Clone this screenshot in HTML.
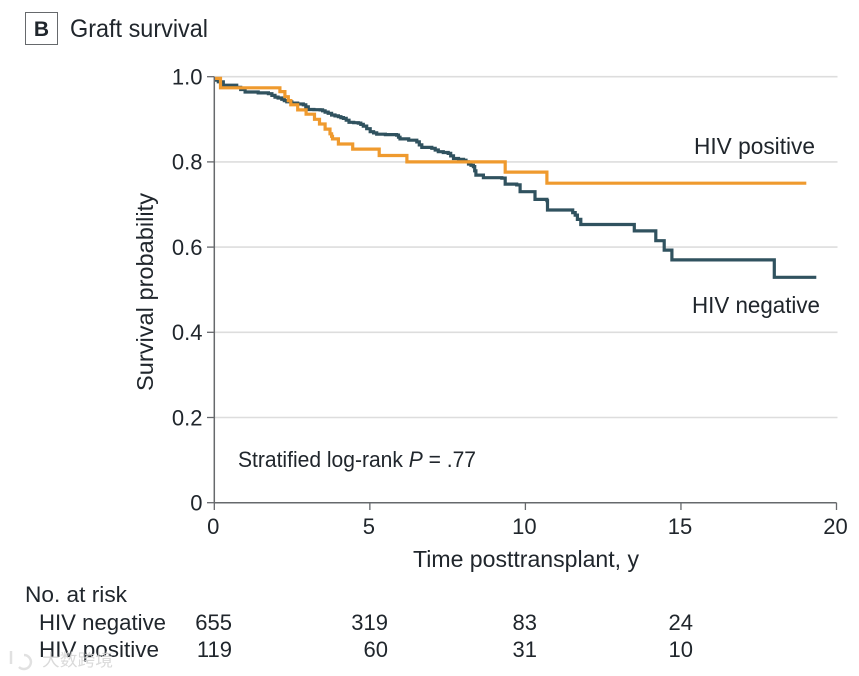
<!DOCTYPE html>
<html lang="en">
<head>
<meta charset="utf-8">
<title>Graft survival</title>
<style>
html,body{margin:0;padding:0;background:#fff;width:859px;height:676px;overflow:hidden}
svg{display:block}
text{font-family:"Liberation Sans",sans-serif;fill:#20262c;font-size:22px}
</style>
</head>
<body>
<svg id="chart" width="859" height="676" viewBox="0 0 859 676" xmlns="http://www.w3.org/2000/svg">
  <rect x="25.5" y="12.5" width="32" height="32" fill="#fff" stroke="#66696c" stroke-width="1"/>
  <text x="41.5" y="36" text-anchor="middle" font-weight="bold" style="font-size:21px">B</text>
  <text x="70" y="37" textLength="138" lengthAdjust="spacingAndGlyphs" style="font-size:25px">Graft survival</text>
  <g id="grid"></g>
  <g id="series"></g>
  <g id="axes"></g>
  <text transform="translate(153,391) rotate(-90)" textLength="198" lengthAdjust="spacingAndGlyphs" style="font-size:23.5px">Survival probability</text>
  <text x="413" y="567" textLength="226" lengthAdjust="spacingAndGlyphs" style="font-size:23.5px">Time posttransplant, y</text>
  <text x="694" y="154" textLength="121" lengthAdjust="spacingAndGlyphs" style="font-size:23.5px">HIV positive</text>
  <text x="692" y="313" textLength="128" lengthAdjust="spacingAndGlyphs" style="font-size:23.5px">HIV negative</text>
  <text x="238" y="467" textLength="238" lengthAdjust="spacingAndGlyphs" style="font-size:22px">Stratified log-rank <tspan font-style="italic">P</tspan> = .77</text>
  <text x="25" y="602" textLength="102" lengthAdjust="spacingAndGlyphs" style="font-size:22.5px">No. at risk</text>
  <text x="39" y="630" textLength="127" lengthAdjust="spacingAndGlyphs" style="font-size:22.5px">HIV negative</text>
  <text x="39" y="657" textLength="120" lengthAdjust="spacingAndGlyphs" style="font-size:22.5px">HIV positive</text>
  <g id="risk"></g>
  <g opacity="0.85">
    <path d="M11 651V664M24 655A7 7 0 1 1 19 667" fill="none" stroke="#dcdcdc" stroke-width="2.5"/>
    <text x="42" y="666" textLength="71" lengthAdjust="spacingAndGlyphs" style="font-family:'Liberation Sans','Noto Sans CJK SC',sans-serif;font-size:17px;fill:#d4d4d4">大数跨境</text>
  </g>
</svg>
<script>
const xTicks = [0, 5, 10, 15, 20];
const yTicks = [0, 0.2, 0.4, 0.6, 0.8, 1.0];
const yTickLabels = ['0', '0.2', '0.4', '0.6', '0.8', '1.0'];

const negativeTimes = [
  0, 0.13, 0.29, 0.72, 0.85, 0.99, 1.41, 1.74, 1.85, 1.95,
  2.05, 2.17, 2.25, 2.33, 2.49, 2.68, 2.86, 2.94, 3.02, 3.20,
  3.40, 3.48, 3.56, 3.66, 3.77, 3.88, 3.99, 4.07, 4.15, 4.24,
  4.33, 4.48, 4.63, 4.71, 4.79, 4.90, 5.01, 5.12, 5.22, 5.50,
  5.86, 5.92, 5.97, 6.25, 6.51, 6.59, 6.67, 6.99, 7.10, 7.20,
  7.36, 7.52, 7.60, 7.69, 7.85, 8.01, 8.09, 8.17, 8.25, 8.33,
  8.37, 8.41, 8.65, 9.24, 9.35, 9.72, 9.83, 10.31, 10.69, 10.71,
  11.52, 11.60, 11.67, 11.78, 13.50, 14.19, 14.46, 14.71, 18.00, 19.35
];
const negativeSurvival = [
  0.992, 0.988, 0.980, 0.975, 0.970, 0.964, 0.962, 0.960, 0.956, 0.952,
  0.950, 0.947, 0.944, 0.941, 0.938, 0.936, 0.934, 0.929, 0.923, 0.9225,
  0.922, 0.920, 0.917, 0.914, 0.910, 0.908, 0.906, 0.904, 0.902, 0.898,
  0.893, 0.892, 0.891, 0.888, 0.884, 0.878, 0.871, 0.868, 0.865, 0.864,
  0.863, 0.858, 0.854, 0.851, 0.847, 0.840, 0.834, 0.832, 0.828, 0.824,
  0.822, 0.820, 0.814, 0.808, 0.806, 0.804, 0.800, 0.795, 0.792, 0.789,
  0.779, 0.769, 0.763, 0.762, 0.748, 0.746, 0.730, 0.712, 0.709, 0.687,
  0.681, 0.675, 0.665, 0.653, 0.638, 0.615, 0.593, 0.570, 0.529, 0.529
];

const positiveTimes = [0, 0.2, 2.11, 2.27, 2.38, 2.46, 2.68, 2.95, 3.22, 3.38, 3.56, 3.72, 3.77, 3.80, 3.99, 4.45, 5.30, 6.19, 9.35, 10.69, 19.03];
const positiveSurvival = [0.996, 0.974, 0.965, 0.953, 0.944, 0.934, 0.922, 0.912, 0.900, 0.889, 0.877, 0.866, 0.860, 0.854, 0.842, 0.830, 0.815, 0.800, 0.776, 0.750, 0.750];

const riskNegative = [655, 319, 83, 24];
const riskPositive = [119, 60, 31, 10];
const riskTimes = [0, 5, 10, 15];

const SVG_NS = 'http://www.w3.org/2000/svg';
function xScale(t) { return 214.3 + t * 31.11; }
function yScale(s) { return 502.7 - s * 426; }
function riskRight(t) { return t === 0 ? 232 : (t === 5 ? 388 : (t === 10 ? 537 : 693)); }

const gridGroup = document.getElementById('grid');
const axesGroup = document.getElementById('axes');
const seriesGroup = document.getElementById('series');
const riskGroup = document.getElementById('risk');

function line(parent, x1, y1, x2, y2, color, width) {
  const el = document.createElementNS(SVG_NS, 'line');
  el.setAttribute('x1', x1);
  el.setAttribute('y1', y1);
  el.setAttribute('x2', x2);
  el.setAttribute('y2', y2);
  el.setAttribute('stroke', color);
  el.setAttribute('stroke-width', width);
  parent.appendChild(el);
  return el;
}
function label(parent, x, y, anchor, content) {
  const el = document.createElementNS(SVG_NS, 'text');
  el.setAttribute('x', x);
  el.setAttribute('y', y);
  el.setAttribute('text-anchor', anchor);
  el.textContent = content;
  parent.appendChild(el);
  return el;
}

yTicks.forEach(function (v, i) {
  const y = yScale(v);
  if (v > 0) {
    const grid = line(gridGroup, xScale(0), y, 837.5, y, '#dddddd', 1.6);
    
    
  }
  const tick = line(axesGroup, 207, y, xScale(0), y, '#66696c', 1.3);
  
  
  const text = label(axesGroup, 202.5, y + 7.8, 'end', yTickLabels[i]);
  
  
});

xTicks.forEach(function (v) {
  const x = xScale(v);
  const tick = line(axesGroup, x, yScale(0), x, 510, '#66696c', 1.3);
  
  
  const text = label(axesGroup, x - 1, 534, 'middle', String(v));
  
  
});

const yAxis = line(axesGroup, xScale(0), yScale(1), xScale(0), yScale(0), '#66696c', 1.5);


const xAxis = line(axesGroup, xScale(0), yScale(0), xScale(20), yScale(0), '#66696c', 1.5);



function stepPath(times, values) {
  let d = 'M' + xScale(times[0]).toFixed(1) + ' ' + yScale(values[0]).toFixed(1);
  for (let i = 1; i < times.length; i++) {
    const x = xScale(times[i]).toFixed(1);
    d += 'H' + x + 'V' + yScale(values[i]).toFixed(1);
  }
  return d;
}
function curve(times, values, color) {
  const el = document.createElementNS(SVG_NS, 'path');
  el.setAttribute('d', stepPath(times, values));
  el.setAttribute('fill', 'none');
  el.setAttribute('stroke', color);
  el.setAttribute('stroke-width', '3.2');
  el.setAttribute('stroke-linejoin', 'miter');
  seriesGroup.appendChild(el);
  return el;
}
const negativeCurve = curve(negativeTimes, negativeSurvival, '#30525f');


const positiveCurve = curve(positiveTimes, positiveSurvival, '#ef9a2e');



riskTimes.forEach(function (t, i) {
  const neg = label(riskGroup, riskRight(t), 630, 'end', String(riskNegative[i]));
  
  
  const pos = label(riskGroup, riskRight(t), 657, 'end', String(riskPositive[i]));
  
  
});
</script>
</body>
</html>
